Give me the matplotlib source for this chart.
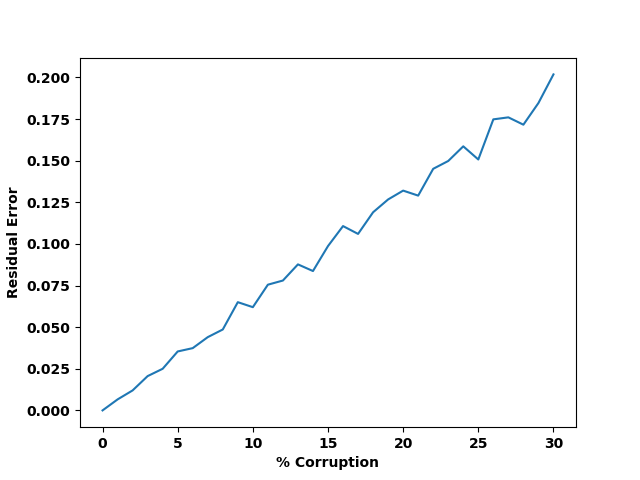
import matplotlib
matplotlib.use("Agg")
import matplotlib.pyplot as plt

plt.rcParams["font.weight"] = "bold"
plt.rcParams["axes.labelweight"] = "bold"

corruption = list(range(31))
residual_error = [
    0.000, 0.0066, 0.012, 0.0206, 0.025, 0.0354, 0.0374, 0.044, 0.0486, 0.065,
    0.062, 0.0755, 0.078, 0.0877, 0.0837, 0.0987, 0.1107, 0.106, 0.119, 0.1267,
    0.132, 0.129, 0.1451, 0.1498, 0.1586, 0.1507, 0.1748, 0.176, 0.1716, 0.1846,
    0.2018,
]

fig, ax = plt.subplots(figsize=(6.4, 4.8), dpi=100)
ax.plot(corruption, residual_error, color="#1f77b4")
ax.set_xlabel("% Corruption")
ax.set_ylabel("Residual Error")

plt.savefig("out.png", dpi=100)
